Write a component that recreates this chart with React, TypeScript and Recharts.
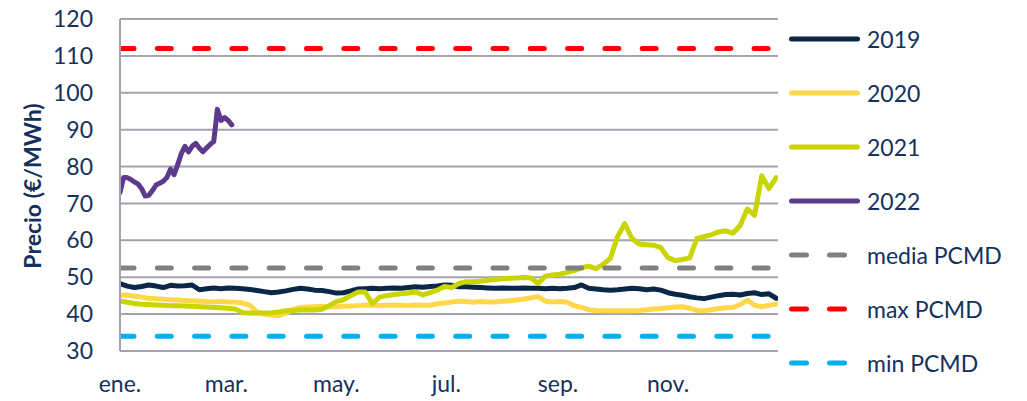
import { CartesianGrid, Line, LineChart, XAxis, YAxis } from "recharts";

// sampling days (day of year) for the daily price curves
const DAYS = Array.from({ length: 92 }, (_, i) => i * 4);
const DAYS_2022 = Array.from({ length: 32 }, (_, i) => i * 2);
const REF_DAYS = [0, 365];

const Y_TICKS = [30, 40, 50, 60, 70, 80, 90, 100, 110, 120];
const MONTH_TICKS = [0, 59, 120, 181, 243, 304];
const MONTH_LABELS = ["ene.", "mar.", "may.", "jul.", "sep.", "nov."];

const PRICE_2019 = [
  48.3, 47.6, 47.2, 47.5, 47.9, 47.6, 47.2, 47.8, 47.6, 47.7, 47.9, 46.6, 46.9,
  47.1, 46.9, 47.1, 47.0, 46.9, 46.7, 46.4, 46.1, 45.8, 46.0, 46.3, 46.7, 47.0,
  46.8, 46.5, 46.4, 46.1, 45.7, 45.8, 46.3, 46.8, 46.9, 47.0, 46.9, 47.0, 47.1,
  47.0, 47.2, 47.4, 47.3, 47.5, 47.6, 47.9, 47.8, 47.4, 47.4, 47.3, 47.2, 47.1,
  47.0, 47.1, 47.0, 47.0, 47.1, 47.0, 47.0, 46.9, 47.0, 46.9, 47.0, 47.2, 47.9,
  47.0, 46.8, 46.6, 46.5, 46.6, 46.8, 47.0, 46.9, 46.6, 46.8, 46.5, 45.8, 45.4,
  45.1, 44.7, 44.4, 44.2, 44.6, 45.0, 45.3, 45.4, 45.2, 45.6, 45.8, 45.3, 45.5,
  44.3,
];

const PRICE_2020 = [
  45.1, 45.2, 44.9, 44.6, 44.3, 44.2, 44.0, 43.9, 43.8, 43.7, 43.6, 43.5, 43.4,
  43.3, 43.4, 43.3, 43.2, 43.0, 42.4, 40.6, 40.0, 39.7, 39.6, 40.3, 41.3, 41.8,
  41.9, 42.0, 42.1, 41.9, 42.0, 42.1, 42.2, 42.3, 42.4, 42.5, 42.3, 42.4, 42.5,
  42.4, 42.3, 42.5, 42.4, 42.4, 42.8, 43.0, 43.3, 43.5, 43.4, 43.2, 43.4, 43.3,
  43.3, 43.5, 43.6, 43.8, 44.1, 44.4, 44.7, 43.5, 43.3, 43.4, 43.2, 42.3, 41.8,
  41.2, 41.0, 40.9, 40.9, 40.9, 40.9, 40.9, 41.0, 41.2, 41.4, 41.5, 41.7, 41.9,
  42.0, 41.6, 41.0, 40.9, 41.2, 41.5, 41.7, 41.8, 42.6, 43.8, 42.4, 42.0, 42.4,
  42.7,
];

const PRICE_2021 = [
  43.6, 43.2, 42.9, 42.7, 42.6, 42.5, 42.4, 42.3, 42.3, 42.2, 42.1, 42.0, 41.9,
  41.8, 41.7, 41.6, 41.4, 40.4, 40.3, 40.3, 40.3, 40.4, 40.6, 40.9, 41.0, 41.1,
  41.1, 41.1, 41.3, 42.3, 43.4, 43.9, 45.0, 46.0, 46.0, 42.8, 44.6, 45.0, 45.3,
  45.5, 45.7, 46.0, 45.2, 45.8, 46.5, 47.5, 47.2, 48.3, 48.8, 48.8, 48.9, 49.2,
  49.4, 49.6, 49.7, 49.8, 49.9, 49.8, 48.3, 50.3, 50.6, 50.8, 51.3, 51.8, 52.6,
  53.0, 52.3, 53.5, 55.1, 61.0, 64.5, 60.5, 59.0, 58.8, 58.7, 58.0, 55.3, 54.5,
  54.8, 55.2, 60.5, 61.0, 61.5, 62.3, 62.6, 61.9, 64.0, 68.5, 66.8, 77.5, 74.0,
  77.0,
];

const PRICE_2022 = [
  73.0, 77.0, 77.0, 76.5, 75.8, 75.3, 74.0, 72.0, 72.2, 73.5, 75.0, 75.5, 76.0,
  77.0, 79.3, 77.8, 80.5, 83.5, 85.5, 84.0, 85.5, 86.3, 85.0, 84.0, 85.0, 86.0,
  86.8, 95.5, 92.5, 93.3, 92.5, 91.3,
];

const MEDIA_PCMD = [52.5, 52.5];
const MAX_PCMD = [112, 112];
const MIN_PCMD = [34, 34];

const TEXT = "#13315c";
const FONT = "Lato, 'Open Sans', sans-serif";

const toRows = (days: number[], values: number[]) =>
  days.map((day, i) => ({ day, value: values[i] }));

type SeriesDef = {
  name: string;
  color: string;
  rows: { day: number; value: number }[];
  dashed?: boolean;
};

const SERIES: SeriesDef[] = [
  { name: "2019", color: "#0b2748", rows: toRows(DAYS, PRICE_2019) },
  { name: "2020", color: "#ffd84a", rows: toRows(DAYS, PRICE_2020) },
  { name: "2021", color: "#c9d400", rows: toRows(DAYS, PRICE_2021) },
  { name: "2022", color: "#5e3a8e", rows: toRows(DAYS_2022, PRICE_2022) },
  { name: "media PCMD", color: "#808080", rows: toRows(REF_DAYS, MEDIA_PCMD), dashed: true },
  { name: "max PCMD", color: "#ff0000", rows: toRows(REF_DAYS, MAX_PCMD), dashed: true },
  { name: "min PCMD", color: "#00b0f0", rows: toRows(REF_DAYS, MIN_PCMD), dashed: true },
];

const tickStyle = { fill: TEXT, fontSize: 23, fontFamily: FONT };

const YTitle = () => (
  <text
    x={32}
    y={186}
    transform="rotate(-90 32 186)"
    textAnchor="middle"
    dominantBaseline="central"
    fill={TEXT}
    fontSize={23}
    fontWeight="bold"
    fontFamily={FONT}
  >
    Precio (€/MWh)
  </text>
);

const ChartLegend = () => (
  <svg
    width={240}
    height={401}
    style={{ position: "absolute", left: 787, top: 0 }}
  >
    {SERIES.map((s, i) => {
      const y = 39 + i * 54;
      return (
        <g key={s.name}>
          <line
            x1={4.5}
            x2={s.dashed ? 57.5 : 70.5}
            y1={y}
            y2={y}
            stroke={s.color}
            strokeWidth={5}
            strokeLinecap="round"
            strokeDasharray={s.dashed ? "15 23" : undefined}
          />
          <text
            x={80}
            y={y}
            dominantBaseline="central"
            fill={TEXT}
            fontSize={23}
            fontFamily={FONT}
          >
            {s.name}
          </text>
        </g>
      );
    })}
  </svg>
);

export default function App() {
  return (
    <div
      style={{
        position: "absolute",
        left: 0,
        top: 0,
        width: 1027,
        height: 401,
        background: "#fff",
        fontFamily: FONT,
      }}
    >
      <LineChart
        width={1027}
        height={401}
        margin={{ top: 19, right: 249, bottom: 0, left: 0 }}
      >
        <CartesianGrid
          vertical={false}
          stroke="#a3a3ab"
          strokeWidth={2}
        />
        <XAxis
          type="number"
          dataKey="day"
          domain={[0, 365]}
          ticks={MONTH_TICKS}
          tickFormatter={(v) => MONTH_LABELS[MONTH_TICKS.indexOf(v)] ?? ""}
          axisLine={false}
          tickLine={false}
          tickSize={0}
          tickMargin={25}
          height={50}
          tick={tickStyle}
          allowDataOverflow
        />
        <YAxis
          type="number"
          domain={[30, 120]}
          ticks={Y_TICKS}
          width={120}
          axisLine={{ stroke: "#a3a3ab", strokeWidth: 2 }}
          tickLine={false}
          tickSize={0}
          tickMargin={27}
          tick={tickStyle}
          label={<YTitle />}
        />
        {SERIES.map((s) => (
          <Line
            key={s.name}
            data={s.rows}
            dataKey="value"
            name={s.name}
            type="linear"
            stroke={s.color}
            strokeWidth={5}
            strokeLinecap="round"
            strokeLinejoin="round"
            strokeDasharray={s.dashed ? "14 23.3" : undefined}
            dot={false}
            activeDot={false}
            isAnimationActive={false}
          />
        ))}
      </LineChart>
      <ChartLegend />
    </div>
  );
}
